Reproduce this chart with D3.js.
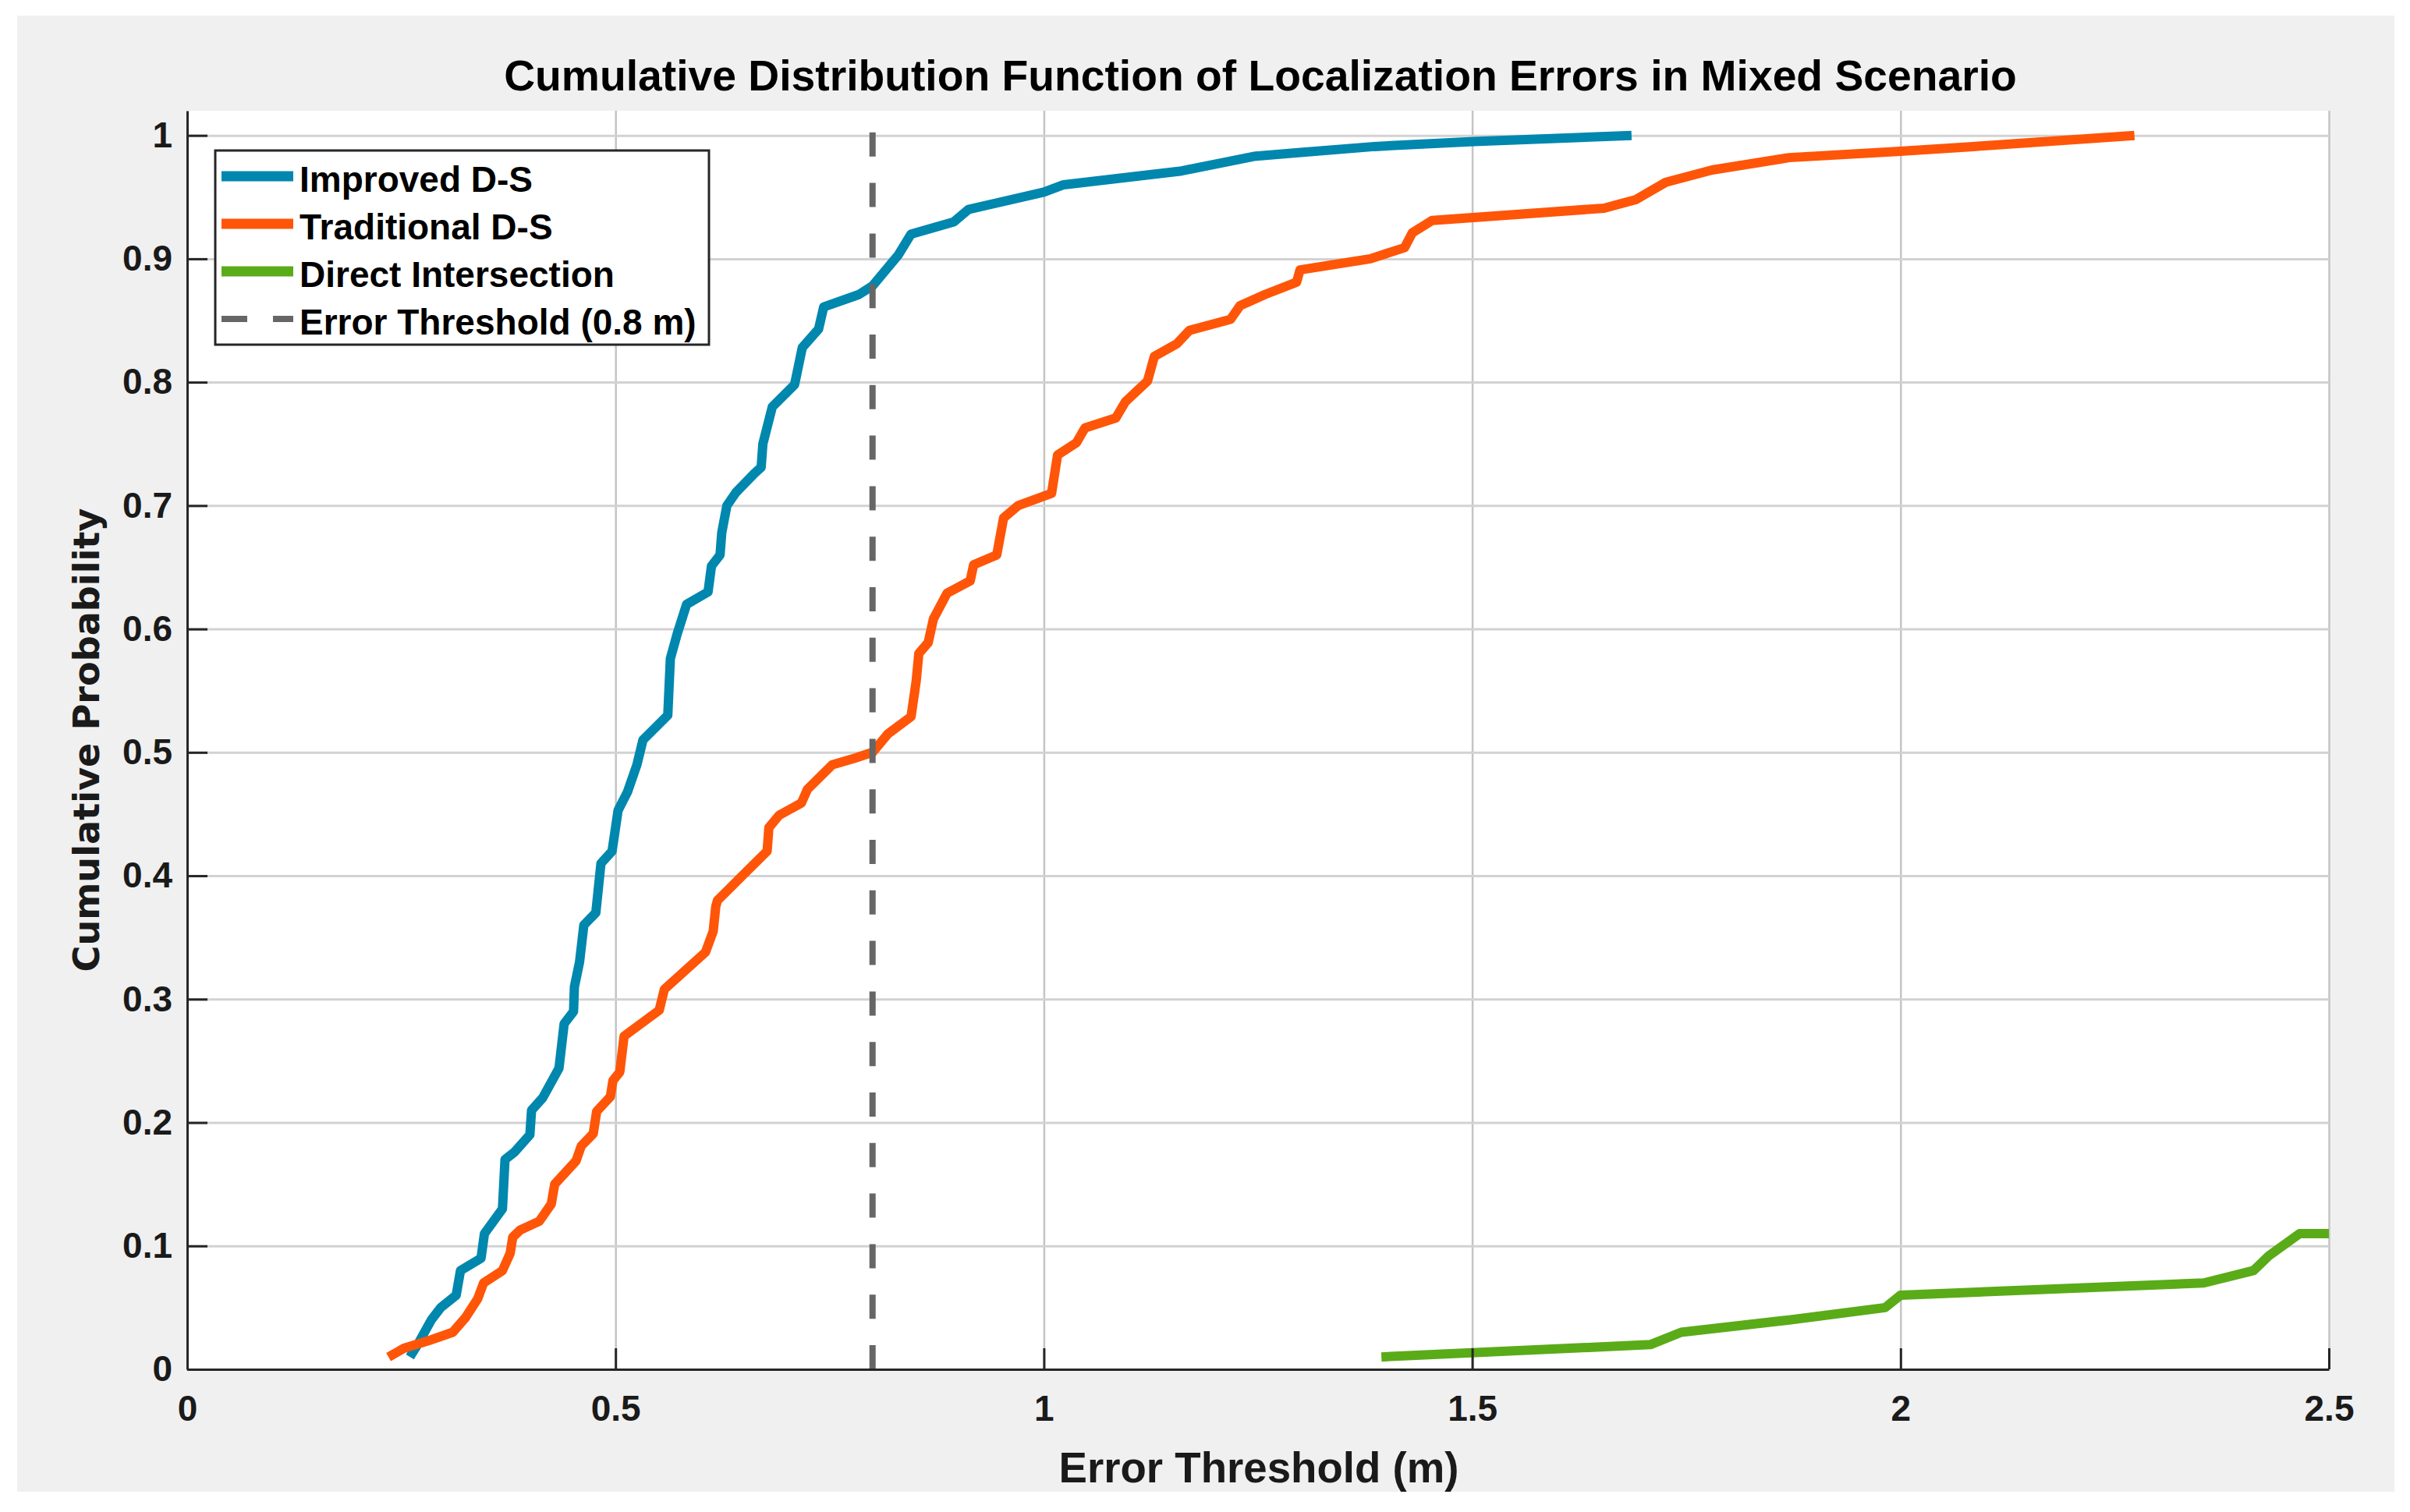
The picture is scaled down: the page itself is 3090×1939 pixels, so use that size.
<!DOCTYPE html>
<html>
<head>
<meta charset="utf-8">
<script src="https://cdn.jsdelivr.net/npm/d3@7"></script>
<style>
  html, body { margin: 0; padding: 0; background: #fff; }
  svg { display: block; }
</style>
</head>
<body>
<div id="chart"></div>
<script>
// CDF values
const improvedX = [0.260, 0.269, 0.285, 0.296, 0.314, 0.319, 0.343, 0.347, 0.368, 0.371,
  0.382, 0.400, 0.402, 0.415, 0.434, 0.440, 0.451, 0.452, 0.458, 0.463,
  0.477, 0.480, 0.483, 0.496, 0.503, 0.514, 0.525, 0.532, 0.561, 0.564,
  0.572, 0.583, 0.608, 0.612, 0.622, 0.624, 0.630, 0.641, 0.662, 0.670,
  0.672, 0.683, 0.709, 0.718, 0.737, 0.743, 0.784, 0.800, 0.830, 0.845,
  0.895, 0.912, 1.000, 1.023, 1.159, 1.245, 1.297, 1.386, 1.502, 1.686];
const improvedY = [0.01, 0.02, 0.04, 0.05, 0.06, 0.08, 0.09, 0.11, 0.13, 0.17,
  0.176, 0.19, 0.21, 0.22, 0.244, 0.28, 0.29, 0.31, 0.33, 0.36,
  0.37, 0.39, 0.41, 0.42, 0.453, 0.468, 0.49, 0.51, 0.53, 0.576,
  0.596, 0.62, 0.63, 0.651, 0.66, 0.678, 0.70, 0.711, 0.726, 0.731,
  0.75, 0.78, 0.798, 0.828, 0.843, 0.861, 0.871, 0.878, 0.903, 0.92,
  0.93, 0.94, 0.954, 0.96, 0.971, 0.983, 0.986, 0.991, 0.995, 1.0];

const traditionalX = [0.235, 0.253, 0.281, 0.310, 0.325, 0.339, 0.346, 0.368, 0.377, 0.380,
  0.389, 0.411, 0.425, 0.429, 0.454, 0.460, 0.474, 0.478, 0.494, 0.497,
  0.505, 0.510, 0.551, 0.557, 0.605, 0.614, 0.617, 0.619, 0.648, 0.677,
  0.679, 0.691, 0.717, 0.724, 0.753, 0.778, 0.800, 0.818, 0.845, 0.851,
  0.854, 0.865, 0.871, 0.887, 0.914, 0.918, 0.945, 0.953, 0.970, 1.009,
  1.016, 1.038, 1.048, 1.084, 1.095, 1.121, 1.129, 1.155, 1.170, 1.218,
  1.229, 1.258, 1.295, 1.299, 1.381, 1.421, 1.430, 1.453, 1.654, 1.691,
  1.726, 1.780, 1.870, 1.996, 2.085, 2.273];
const traditionalY = [0.01, 0.017, 0.023, 0.03, 0.042, 0.057, 0.07, 0.08, 0.094, 0.107,
  0.113, 0.12, 0.134, 0.15, 0.169, 0.181, 0.191, 0.209, 0.221, 0.234,
  0.241, 0.27, 0.291, 0.308, 0.338, 0.355, 0.375, 0.38, 0.40, 0.42,
  0.439, 0.449, 0.459, 0.47, 0.49, 0.495, 0.50, 0.515, 0.529, 0.558,
  0.58, 0.589, 0.608, 0.629, 0.639, 0.652, 0.66, 0.69, 0.70, 0.71,
  0.741, 0.751, 0.763, 0.771, 0.784, 0.801, 0.821, 0.831, 0.842, 0.851,
  0.862, 0.871, 0.881, 0.891, 0.90, 0.909, 0.921, 0.931, 0.941, 0.948,
  0.962, 0.972, 0.982, 0.987, 0.991, 1.0];

const directX = [1.394, 1.708, 1.744, 1.870, 1.982, 2.000, 2.354, 2.412, 2.430, 2.466, 2.500];
const directY = [0.01, 0.02, 0.03, 0.04, 0.05, 0.06, 0.07, 0.08, 0.092, 0.11, 0.11];

const thresholdX = 0.8;

const seriesNames = ['Improved D-S', 'Traditional D-S', 'Direct Intersection', 'Error Threshold (0.8 m)'];
const seriesColors = ['#0087ae', '#ff5508', '#5aab18', '#666666'];

const xTicks = [0, 0.5, 1, 1.5, 2, 2.5];
const xTickLabels = ['0', '0.5', '1', '1.5', '2', '2.5'];
const yTicks = [0, 0.1, 0.2, 0.3, 0.4, 0.5, 0.6, 0.7, 0.8, 0.9, 1];
const yTickLabels = ['0', '0.1', '0.2', '0.3', '0.4', '0.5', '0.6', '0.7', '0.8', '0.9', '1'];

const titleText = 'Cumulative Distribution Function of Localization Errors in Mixed Scenario';
const xLabelText = 'Error Threshold (m)';
const yLabelText = 'Cumulative Probability';

// layout
const width = 3090, height = 1939;
const margin = { top: 142, right: 104, bottom: 183, left: 240 };
const innerW = width - margin.left - margin.right;
const innerH = height - margin.top - margin.bottom;
const armFont = "'Liberation Sans', Arial, Helvetica, sans-serif";
const axisColor = '#262626';

const svg = d3.select('#chart')
  .append('svg')
  .attr('width', width)
  .attr('height', height);

// figure background
svg.append('rect')
  .attr('x', 22).attr('y', 20)
  .attr('width', width - 42).attr('height', height - 46)
  .attr('fill', '#f0f0f0');

const g = svg.append('g')
  .attr('transform', `translate(${margin.left},${margin.top})`);

const x = d3.scaleLinear().domain([0, 2.5]).range([0, innerW]);
const y = d3.scaleLinear().domain([0, 1.02]).range([innerH, 0]);

g.append('rect')
  .attr('width', innerW)
  .attr('height', innerH)
  .attr('fill', '#fff');

g.append('clipPath').attr('id', 'plot-clip')
  .append('rect').attr('width', innerW).attr('height', innerH);

// grid
g.append('g')
  .attr('class', 'grid-x')
  .attr('transform', `translate(0,${innerH})`)
  .call(d3.axisBottom(x).tickValues(xTicks.slice(1)).tickSize(-innerH).tickFormat(''))
  .call(s => s.select('.domain').remove())
  .call(s => s.selectAll('line').attr('stroke', '#c4c4c4').attr('stroke-width', 2.5));

g.append('g')
  .attr('class', 'grid-y')
  .call(d3.axisLeft(y).tickValues(yTicks.slice(1)).tickSize(-innerW).tickFormat(''))
  .call(s => s.select('.domain').remove())
  .call(s => s.selectAll('line').attr('stroke', '#d2d2d2').attr('stroke-width', 3));

// curves
const line = d3.line()
  .x(d => x(d[0]))
  .y(d => y(d[1]));

const series = [
  d3.zip(improvedX, improvedY),
  d3.zip(traditionalX, traditionalY),
  d3.zip(directX, directY)
];

const plot = g.append('g').attr('clip-path', 'url(#plot-clip)');

plot.selectAll('.cdf')
  .data(series)
  .enter()
  .append('path')
  .attr('class', 'cdf')
  .attr('d', line)
  .attr('fill', 'none')
  .attr('stroke', (d, i) => seriesColors[i])
  .attr('stroke-width', 12)
  .attr('stroke-linejoin', 'round')
  .attr('stroke-linecap', 'butt');

plot.append('line')
  .attr('x1', x(thresholdX)).attr('x2', x(thresholdX))
  .attr('y1', y(0)).attr('y2', y(1.02))
  .attr('stroke', seriesColors[3])
  .attr('stroke-width', 8)
  .attr('stroke-dasharray', '31,33.8');

// axes
const xAxis = g.append('g')
  .attr('transform', `translate(0,${innerH})`)
  .call(d3.axisBottom(x)
    .tickValues(xTicks)
    .tickFormat((d, i) => xTickLabels[i])
    .tickSizeInner(-27)
    .tickSizeOuter(0)
    .tickPadding(33));

const yAxis = g.append('g')
  .call(d3.axisLeft(y)
    .tickValues(yTicks)
    .tickFormat((d, i) => yTickLabels[i])
    .tickSizeInner(-26)
    .tickSizeOuter(0)
    .tickPadding(19));

[xAxis, yAxis].forEach(ax => {
  ax.select('.domain').attr('stroke', axisColor).attr('stroke-width', 3);
  ax.selectAll('.tick line').attr('stroke', axisColor).attr('stroke-width', 3);
  ax.selectAll('.tick text')
    .attr('fill', '#1a1a1a')
    .style('font-family', armFont)
    .style('font-weight', 'bold')
    .style('font-size', '46px');
});
xAxis.select('.tick line').remove();

// scale a text so that it covers the measured width
function fitWidth(text, target) {
  const w = text.node().getComputedTextLength();
  const fs = parseFloat(text.attr('font-size'));
  text.attr('font-size', fs * target / w);
}

const title = svg.append('text')
  .attr('x', margin.left + innerW / 2 + 3)
  .attr('y', 116)
  .attr('text-anchor', 'middle')
  .attr('font-family', armFont)
  .attr('font-weight', 'bold')
  .attr('font-size', 48)
  .attr('fill', '#000')
  .text(titleText);
fitWidth(title, 1940);

const xLabel = svg.append('text')
  .attr('x', 1614)
  .attr('y', 1901)
  .attr('text-anchor', 'middle')
  .attr('font-family', armFont)
  .attr('font-weight', 'bold')
  .attr('font-size', 54)
  .attr('fill', '#1a1a1a')
  .text(xLabelText);
fitWidth(xLabel, 513);

const yLabel = svg.append('text')
  .attr('transform', 'translate(111,949) rotate(-90)')
  .attr('text-anchor', 'middle')
  .attr('dominant-baseline', 'central')
  .attr('font-family', "'DejaVu Sans', Verdana, sans-serif")
  .attr('font-weight', 'bold')
  .attr('font-size', 46)
  .attr('fill', '#1a1a1a')
  .text(yLabelText);
fitWidth(yLabel, 595);

// legend
const legendX = 276, legendY = 193, legendW = 633, legendH = 249, rowH = 61;
const legend = svg.append('g').attr('transform', `translate(${legendX},${legendY})`);

legend.append('rect')
  .attr('width', legendW)
  .attr('height', legendH)
  .attr('fill', '#fff')
  .attr('stroke', axisColor)
  .attr('stroke-width', 3);

const items = legend.selectAll('.item')
  .data(seriesNames)
  .enter()
  .append('g')
  .attr('class', 'item')
  .attr('transform', (d, i) => `translate(0,${33 + i * rowH})`);

items.append('line')
  .attr('x1', 8).attr('x2', 100)
  .attr('stroke', (d, i) => seriesColors[i])
  .attr('stroke-width', (d, i) => i === 3 ? 8 : 13)
  .attr('stroke-dasharray', (d, i) => i === 3 ? '33,33' : null);

items.append('text')
  .attr('x', 108)
  .attr('y', 20)
  .attr('font-family', armFont)
  .attr('font-weight', 'bold')
  .attr('font-size', 46)
  .attr('fill', '#000')
  .text(d => d);
</script>
</body>
</html>
